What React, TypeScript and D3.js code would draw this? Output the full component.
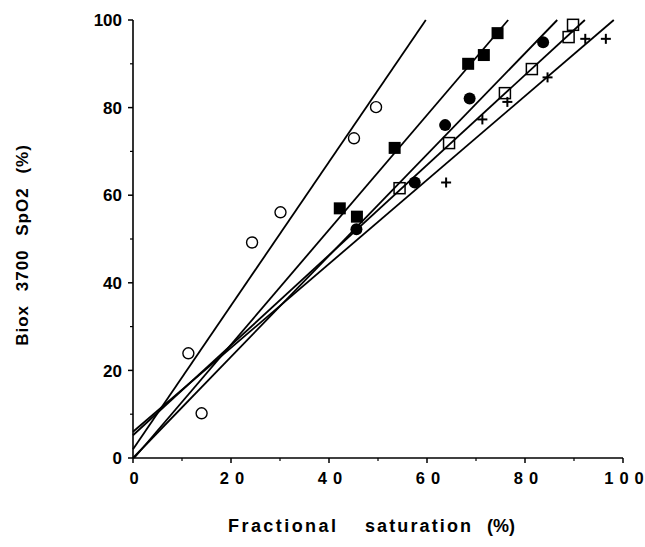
import React from "react";
import * as d3 from "d3";

const xTicks = [0, 20, 40, 60, 80, 100];
const yTicks = [0, 20, 40, 60, 80, 100];
const minorTicks = [10, 30, 50, 70, 90];

const openCircleX = [11.3, 14.0, 24.3, 30.1, 45.1, 49.6];
const openCircleY = [23.9, 10.2, 49.2, 56.1, 73.0, 80.1];
const filledSquareX = [42.2, 45.7, 53.4, 68.4, 71.6, 74.4];
const filledSquareY = [57.0, 55.1, 70.8, 90.0, 92.0, 97.0];
const filledCircleX = [45.6, 57.5, 63.7, 68.7, 83.7];
const filledCircleY = [52.2, 62.9, 76.0, 82.1, 94.9];
const openSquareX = [54.4, 64.5, 75.9, 81.4, 88.9, 89.8];
const openSquareY = [61.6, 71.9, 83.3, 88.8, 96.1, 98.9];
const crossX = [63.9, 71.3, 76.4, 84.6, 92.3, 96.5];
const crossY = [62.9, 77.3, 81.3, 86.9, 95.7, 95.7];

// regression lines: slope, intercept (open circle, filled square, filled circle, open square, cross)
const lineSlopes = [1.64, 1.31, 1.155, 1.028, 0.958];
const lineIntercepts = [2.0, -0.3, 0.0, 5.2, 6.0];

const xTitleWords = ["Fractional", "saturation", "(%)"];
const yTitle = "Biox 3700 SpO2 (%)";

const W = 645;
const H = 547;
const x = d3.scaleLinear().domain([0, 100]).range([133, 623]);
const y = d3.scaleLinear().domain([0, 100]).range([458, 20]);

const font = "'Liberation Sans', Arial, Helvetica, sans-serif";

// word layout of x title (start positions, widths in pixels; 0 = natural)
const xTitleStarts = [228, 365, 487];
const xTitleWidths = [108, 106, 0];

export default function App() {
  const lineGen = d3.line<[number, number]>().x((d) => x(d[0])).y((d) => y(d[1]));
  const lines = lineSlopes.map((m, i) => {
    const b = lineIntercepts[i];
    const x0 = Math.max(0, -b / m);
    const x1 = Math.min(100, (100 - b) / m);
    return lineGen([
      [x0, m * x0 + b],
      [x1, m * x1 + b],
    ]) as string;
  });
  const zip = (a: number[], b: number[]) => a.map((v, i) => [v, b[i]] as [number, number]);

  return (
    <svg
      width={W}
      height={H}
      style={{ position: "absolute", left: 0, top: 0, background: "#fff" }}
      fontFamily={font}
      fontWeight="bold"
    >
      <rect width={W} height={H} fill="#fff" />
      {/* axes */}
      <line x1={x(0)} x2={x(0)} y1={y(0)} y2={y(100)} stroke="#000" strokeWidth={1.6} />
      <line x1={x(0)} x2={x(100)} y1={y(0)} y2={y(0)} stroke="#000" strokeWidth={1.6} />
      {yTicks.map((t) => (
        <g key={"yt" + t}>
          <line x1={x(0) - 5} x2={x(0)} y1={y(t)} y2={y(t)} stroke="#000" strokeWidth={1.5} />
          <text x={122} y={y(t)} dy="0.36em" textAnchor="end" fontSize={17}>
            {t}
          </text>
        </g>
      ))}
      {minorTicks.map((t) => (
        <line key={"ym" + t} x1={x(0) - 3} x2={x(0)} y1={y(t)} y2={y(t)} stroke="#000" strokeWidth={1.2} />
      ))}
      {xTicks.map((t) => (
        <g key={"xt" + t}>
          <line x1={x(t)} x2={x(t)} y1={y(0)} y2={y(0) + 5} stroke="#000" strokeWidth={1.5} />
          <text x={x(t) + 1} y={484} textAnchor="middle" fontSize={16.5}>
            {String(t)
              .split("")
              .map((c, i) => (
                <tspan key={i} dx={i === 0 ? 0 : 6}>
                  {c}
                </tspan>
              ))}
          </text>
        </g>
      ))}
      {minorTicks.map((t) => (
        <line key={"xm" + t} x1={x(t)} x2={x(t)} y1={y(0)} y2={y(0) + 3} stroke="#000" strokeWidth={1.2} />
      ))}
      {/* regression lines */}
      {lines.map((d, i) => (
        <path key={"l" + i} d={d} stroke="#000" strokeWidth={1.8} fill="none" />
      ))}
      {/* markers */}
      {zip(openCircleX, openCircleY).map((p, i) => (
        <circle key={"oc" + i} cx={x(p[0])} cy={y(p[1])} r={5.5} fill="#fff" stroke="#000" strokeWidth={1.4} />
      ))}
      {zip(filledSquareX, filledSquareY).map((p, i) => (
        <rect key={"fs" + i} x={x(p[0]) - 6} y={y(p[1]) - 6} width={12} height={12} fill="#000" />
      ))}
      {zip(filledCircleX, filledCircleY).map((p, i) => (
        <circle key={"fc" + i} cx={x(p[0])} cy={y(p[1])} r={6} fill="#000" />
      ))}
      {zip(openSquareX, openSquareY).map((p, i) => (
        <rect
          key={"os" + i}
          x={x(p[0]) - 5.5}
          y={y(p[1]) - 5.5}
          width={11}
          height={11}
          fill="none"
          stroke="#000"
          strokeWidth={1.5}
        />
      ))}
      {zip(crossX, crossY).map((p, i) => (
        <g key={"cr" + i} stroke="#000" strokeWidth={2}>
          <line x1={x(p[0]) - 5} x2={x(p[0]) + 5} y1={y(p[1])} y2={y(p[1])} />
          <line x1={x(p[0])} x2={x(p[0])} y1={y(p[1]) - 5} y2={y(p[1]) + 5} />
        </g>
      ))}
      {/* axis titles */}
      {xTitleWords.map((w, i) =>
        xTitleWidths[i] > 0 ? (
          <text
            key={"xw" + i}
            x={xTitleStarts[i]}
            y={532}
            fontSize={18}
            textLength={xTitleWidths[i]}
            lengthAdjust="spacing"
          >
            {w}
          </text>
        ) : (
          <text key={"xw" + i} x={xTitleStarts[i]} y={532} fontSize={18}>
            {w}
          </text>
        )
      )}
      <text
        transform={`translate(28,245) rotate(-90)`}
        textAnchor="middle"
        fontSize={17}
        letterSpacing={1}
        wordSpacing={8}
      >
        {yTitle}
      </text>
    </svg>
  );
}
